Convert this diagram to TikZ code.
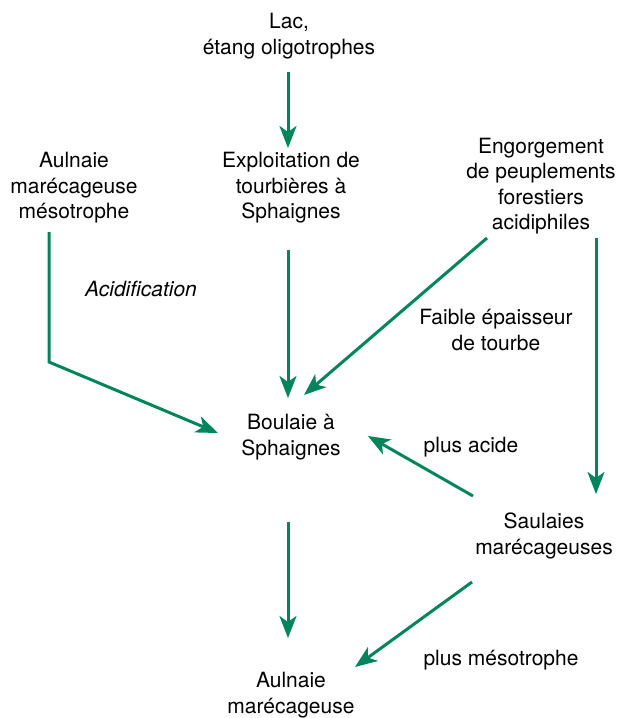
\documentclass[tikz,border=0pt]{standalone}
\usepackage{fontspec}
\setmainfont{TeX Gyre Heros}
\usetikzlibrary{arrows.meta,calc}
\definecolor{vert}{RGB}{0,133,90}

\begin{document}
\begin{tikzpicture}[x=1pt, y=-1pt,
    lbl/.style={align=center, inner sep=0pt, font=\fontsize{21}{25.5}\selectfont},
    fleche/.style={draw=vert, line width=3pt, -{Stealth[length=22pt, width=17pt, inset=6pt]}}]
  \useasboundingbox (0,0) rectangle (618,718);
  % noeuds
  \node[lbl] (lac) at (289,36) {Lac,\\ étang oligotrophes};
  \node[lbl] (exploit) at (291,188) {Exploitation de\\ tourbières à\\ Sphaignes};
  \node[lbl] (aulmeso) at (74,188) {Aulnaie\\ marécageuse\\ mésotrophe};
  \node[lbl] (engorg) at (541,186) {Engorgement\\ de peuplements\\ forestiers\\ acidiphiles};
  \node[lbl, font=\fontsize{21}{25.5}\selectfont\itshape] (acid) at (141,289) {Acidification};
  \node[lbl] (faible) at (496,330) {Faible épaisseur\\ de tourbe};
  \node[lbl] (boulaie) at (291,437) {Boulaie à\\ Sphaignes};
  \node[lbl] (plusacide) at (471,447) {plus acide};
  \node[lbl] (saulaies) at (544,536) {Saulaies\\ marécageuses};
  \node[lbl] (aulnaie) at (291,695) {Aulnaie\\ marécageuse};
  \node[lbl] (plusmeso) at (501,660) {plus mésotrophe};
  % fleches
  \draw[fleche] ($(lac)+(-1,36)$) -- ($(exploit)+(-3,-40)$);
  \draw[fleche] ($(exploit)+(-3,62)$) -- ($(boulaie)+(-3,-39)$);
  \draw[fleche] ($(aulmeso)+(-25,44)$) -- ($(aulmeso)+(-25,174)$) -- ($(boulaie)+(-73,-4)$);
  \draw[fleche] ($(engorg)+(-54,52)$) -- ($(boulaie)+(13,-42)$);
  \draw[fleche] ($(engorg)+(55,52)$) -- ($(saulaies)+(52,-42)$);
  \draw[fleche] ($(saulaies)+(-71,-40)$) -- ($(boulaie)+(77,-1)$);
  \draw[fleche] ($(boulaie)+(-3,85)$) -- ($(aulnaie)+(-3,-57)$);
  \draw[fleche] ($(saulaies)+(-72,46)$) -- ($(aulnaie)+(64,-28)$);
\end{tikzpicture}
\end{document}
